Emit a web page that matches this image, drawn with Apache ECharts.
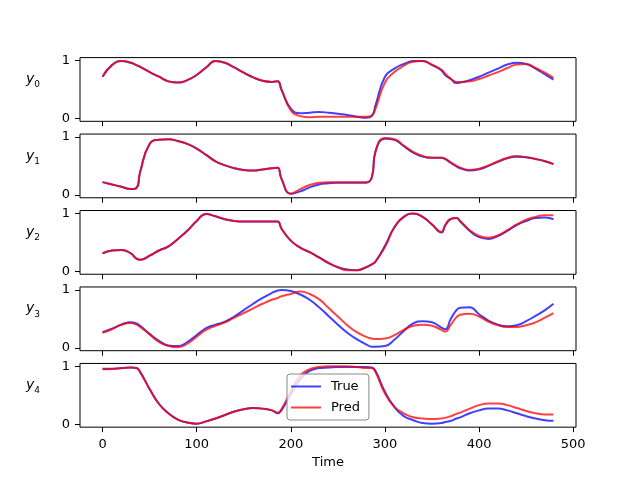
<!DOCTYPE html>
<html>
<head>
<meta charset="utf-8">
<script src="https://cdn.jsdelivr.net/npm/echarts@6/dist/echarts.min.js"></script>
<style>
  html, body { margin: 0; padding: 0; background: #fff; }
  #main { width: 640px; height: 480px; }
</style>
</head>
<body>
<div id="main"></div>
<script>
'use strict';

let steps = [0, 10, 20, 30, 36, 40, 50, 60, 70, 80, 90, 100, 110, 120, 130, 140, 150, 160, 170, 180,
	186, 190, 200, 210, 220, 230, 240, 250, 260, 270, 280, 286, 290, 300, 310, 320, 330, 340, 350,
	360, 364, 370, 376, 380, 390, 400, 410, 420, 430, 440, 450, 460, 470, 479];

let y0True = [0.72, 0.92, 0.99, 0.96, 0.92, 0.89, 0.80, 0.72, 0.64, 0.62, 0.66, 0.75, 0.88, 0.99, 0.96, 0.88, 0.79, 0.71, 0.65, 0.63,
	0.64, 0.50, 0.17, 0.09, 0.10, 0.11, 0.10, 0.08, 0.06, 0.03, 0.01, 0.04, 0.23, 0.72, 0.86, 0.94, 0.99, 0.99, 0.92,
	0.83, 0.75, 0.68, 0.61, 0.62, 0.66, 0.72, 0.79, 0.86, 0.93, 0.96, 0.94, 0.86, 0.76, 0.67];
let y0Pred = [0.72, 0.92, 0.99, 0.96, 0.92, 0.89, 0.80, 0.72, 0.64, 0.62, 0.66, 0.75, 0.88, 0.99, 0.96, 0.88, 0.79, 0.71, 0.65, 0.63,
	0.64, 0.50, 0.14, 0.04, 0.02, 0.03, 0.03, 0.03, 0.03, 0.03, 0.03, 0.05, 0.17, 0.62, 0.80, 0.91, 0.98, 0.99, 0.93,
	0.84, 0.77, 0.68, 0.63, 0.63, 0.64, 0.68, 0.74, 0.80, 0.87, 0.93, 0.94, 0.87, 0.79, 0.70];

let y1True = [0.22, 0.18, 0.14, 0.10, 0.12, 0.40, 0.88, 0.95, 0.96, 0.93, 0.88, 0.80, 0.69, 0.58, 0.51, 0.46, 0.43, 0.42, 0.44, 0.46,
	0.47, 0.28, 0.02, 0.06, 0.13, 0.18, 0.20, 0.21, 0.21, 0.21, 0.21, 0.30, 0.75, 0.97, 0.95, 0.84, 0.73, 0.66, 0.64,
	0.64, 0.62, 0.55, 0.49, 0.46, 0.42, 0.44, 0.50, 0.57, 0.63, 0.66, 0.65, 0.62, 0.58, 0.53];
let y1Pred = [0.22, 0.18, 0.14, 0.10, 0.12, 0.40, 0.88, 0.95, 0.96, 0.93, 0.88, 0.80, 0.69, 0.58, 0.51, 0.46, 0.43, 0.42, 0.44, 0.46,
	0.47, 0.28, 0.02, 0.10, 0.17, 0.21, 0.22, 0.22, 0.22, 0.22, 0.22, 0.30, 0.75, 0.98, 0.96, 0.85, 0.74, 0.67, 0.64,
	0.64, 0.62, 0.56, 0.50, 0.47, 0.43, 0.45, 0.51, 0.58, 0.64, 0.67, 0.65, 0.62, 0.58, 0.53];

let y2True = [0.31, 0.36, 0.37, 0.31, 0.22, 0.20, 0.27, 0.36, 0.43, 0.56, 0.70, 0.87, 0.99, 0.95, 0.90, 0.87, 0.86, 0.86, 0.86, 0.86,
	0.86, 0.74, 0.53, 0.41, 0.33, 0.24, 0.14, 0.07, 0.03, 0.02, 0.07, 0.12, 0.17, 0.44, 0.76, 0.94, 1.00, 0.94, 0.81,
	0.67, 0.79, 0.90, 0.92, 0.86, 0.70, 0.59, 0.56, 0.61, 0.70, 0.80, 0.87, 0.92, 0.93, 0.90];
let y2Pred = [0.31, 0.36, 0.37, 0.31, 0.22, 0.20, 0.27, 0.36, 0.43, 0.56, 0.70, 0.87, 0.99, 0.95, 0.90, 0.87, 0.86, 0.86, 0.86, 0.86,
	0.86, 0.74, 0.53, 0.41, 0.33, 0.24, 0.15, 0.07, 0.02, 0.02, 0.07, 0.12, 0.17, 0.42, 0.76, 0.94, 1.00, 0.94, 0.81,
	0.68, 0.80, 0.91, 0.92, 0.87, 0.71, 0.61, 0.58, 0.62, 0.71, 0.81, 0.89, 0.94, 0.97, 0.97];

let y3True = [0.27, 0.33, 0.40, 0.44, 0.42, 0.38, 0.24, 0.12, 0.04, 0.03, 0.10, 0.22, 0.34, 0.40, 0.45, 0.54, 0.65, 0.76, 0.86, 0.95,
	0.99, 1.00, 0.98, 0.92, 0.83, 0.70, 0.55, 0.40, 0.26, 0.15, 0.06, 0.02, 0.02, 0.03, 0.14, 0.29, 0.42, 0.46, 0.44,
	0.35, 0.32, 0.50, 0.65, 0.69, 0.70, 0.58, 0.47, 0.40, 0.37, 0.39, 0.46, 0.55, 0.65, 0.76];
let y3Pred = [0.26, 0.32, 0.40, 0.43, 0.40, 0.36, 0.23, 0.10, 0.03, 0.01, 0.07, 0.19, 0.31, 0.38, 0.44, 0.52, 0.60, 0.68, 0.76, 0.83,
	0.86, 0.89, 0.93, 0.97, 0.93, 0.84, 0.69, 0.54, 0.39, 0.27, 0.19, 0.16, 0.15, 0.16, 0.22, 0.31, 0.38, 0.40, 0.38,
	0.31, 0.28, 0.40, 0.53, 0.57, 0.59, 0.54, 0.45, 0.39, 0.36, 0.36, 0.39, 0.44, 0.52, 0.60];

let y4True = [0.96, 0.96, 0.97, 0.98, 0.97, 0.90, 0.61, 0.35, 0.19, 0.08, 0.03, 0.01, 0.05, 0.10, 0.16, 0.22, 0.26, 0.28, 0.27, 0.24,
	0.19, 0.24, 0.52, 0.78, 0.92, 0.97, 0.98, 0.99, 0.99, 0.99, 0.99, 0.98, 0.92, 0.56, 0.30, 0.14, 0.07, 0.02, 0.01,
	0.02, 0.04, 0.06, 0.10, 0.12, 0.19, 0.24, 0.27, 0.27, 0.24, 0.19, 0.14, 0.10, 0.07, 0.06];
let y4Pred = [0.95, 0.955, 0.965, 0.98, 0.97, 0.90, 0.61, 0.35, 0.19, 0.08, 0.03, 0.01, 0.05, 0.10, 0.16, 0.22, 0.26, 0.28, 0.27, 0.24,
	0.20, 0.26, 0.57, 0.84, 0.95, 0.99, 1.00, 1.00, 1.00, 0.99, 0.97, 0.97, 0.90, 0.53, 0.30, 0.19, 0.12, 0.10, 0.09,
	0.10, 0.11, 0.14, 0.18, 0.20, 0.27, 0.33, 0.36, 0.36, 0.33, 0.28, 0.23, 0.19, 0.17, 0.17];

let panels = [[y0True, y0Pred], [y1True, y1Pred], [y2True, y2Pred], [y3True, y3Pred], [y4True, y4Pred]];
let xTicks = [0, 100, 200, 300, 400, 500];
let yTicks = [0, 1];

let font = 'DejaVu Sans';
let panelH = 63.72;
let panelStep = 76.46;

function pairs(vals) {
	return steps.map((x, i) => [x, vals[i]]);
}

let grid = [];
let xAxis = [];
let yAxis = [];
let series = [];

for (let i = 0; i < panels.length; i++) {
	let last = i === panels.length - 1;
	grid.push({
		left: 80,
		width: 496,
		top: 57.6 + i * panelStep,
		height: panelH,
		show: true,
		borderColor: '#000',
		borderWidth: 1,
		backgroundColor: 'transparent'
	});
	xAxis.push({
		type: 'value',
		gridIndex: i,
		min: -23.95,
		max: 502.95,
		axisLine: { show: false, onZero: false },
		splitLine: { show: false },
		axisTick: { show: true, length: 5, customValues: xTicks, lineStyle: { color: '#000' } },
		axisLabel: {
			show: last,
			customValues: xTicks,
			margin: 11,
			color: '#000',
			fontSize: 13,
			fontFamily: font
		},
		name: last ? 'Time' : '',
		nameLocation: 'middle',
		nameGap: 29,
		nameTextStyle: { color: '#000', fontSize: 13, fontFamily: font }
	});
	yAxis.push({
		type: 'value',
		gridIndex: i,
		min: -0.05,
		max: 1.05,
		axisLine: { show: false, onZero: false },
		splitLine: { show: false },
		axisTick: { show: true, length: 5, customValues: yTicks, lineStyle: { color: '#000' } },
		axisLabel: {
			customValues: yTicks,
			margin: 10,
			color: '#000',
			fontSize: 13,
			fontFamily: font
		},
		name: '{v|y}{s|' + i + '}',
		nameLocation: 'middle',
		nameRotate: 0,
		nameGap: 40,
		nameTextStyle: {
			verticalAlign: 'bottom',
			rich: {
				v: { fontSize: 14, fontStyle: 'italic', fontFamily: font, color: '#000', lineHeight: 20, verticalAlign: 'middle' },
				s: { fontSize: 9, fontFamily: font, color: '#000', lineHeight: 20, verticalAlign: 'bottom' }
			}
		}
	});
	series.push({
		name: 'True',
		type: 'line',
		xAxisIndex: i,
		yAxisIndex: i,
		data: pairs(panels[i][0]),
		smooth: 0.5,
		showSymbol: false,
		color: 'rgba(0,0,255,0.75)',
		lineStyle: { width: 2, color: 'rgba(0,0,255,0.75)' }
	});
	series.push({
		name: 'Pred',
		type: 'line',
		xAxisIndex: i,
		yAxisIndex: i,
		data: pairs(panels[i][1]),
		smooth: 0.5,
		showSymbol: false,
		color: 'rgba(255,0,0,0.75)',
		lineStyle: { width: 2, color: 'rgba(255,0,0,0.75)' }
	});
}

let myChart = echarts.init(document.getElementById('main'), null, { renderer: 'canvas' });

let option = {
	backgroundColor: '#fff',
	animation: false,
	grid: grid,
	xAxis: xAxis,
	yAxis: yAxis,
	legend: {
		data: ['True', 'Pred'],
		orient: 'vertical',
		left: 287,
		top: 374,
		icon: 'rect',
		itemWidth: 30,
		itemHeight: 2,
		itemGap: 8,
		padding: [6, 9, 6, 4],
		backgroundColor: 'rgba(255,255,255,0.8)',
		borderColor: '#888',
		borderWidth: 1,
		borderRadius: 3,
		textStyle: { color: '#000', fontSize: 13, fontFamily: font, padding: [0, 0, 0, 5] }
	},
	series: series
};
myChart.setOption(option);
</script>
</body>
</html>
